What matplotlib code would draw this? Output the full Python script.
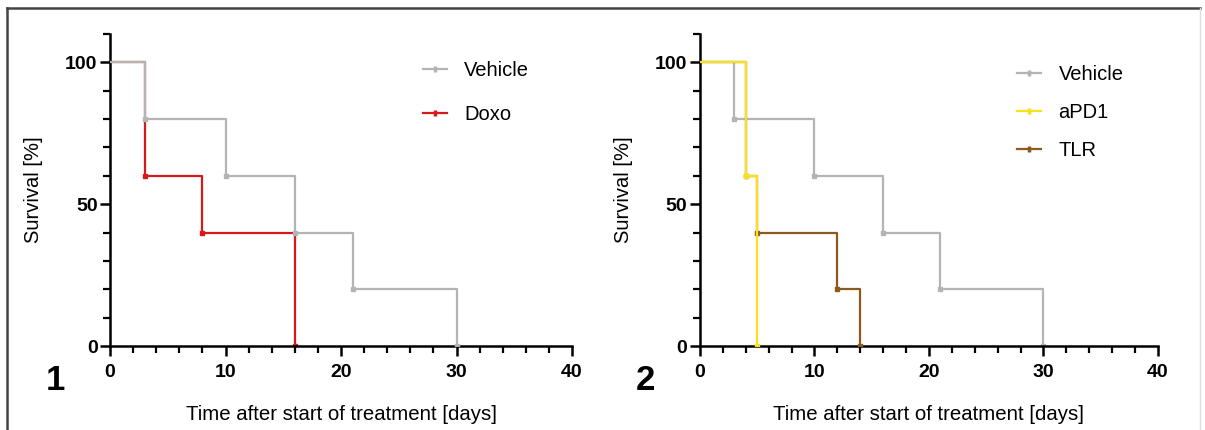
import matplotlib
matplotlib.use("Agg")
import matplotlib.pyplot as plt
from matplotlib.lines import Line2D
from matplotlib.ticker import MultipleLocator

plt.rcParams['font.family'] = ['Liberation Sans', 'DejaVu Sans']

# Panel 1 data
veh_t = [0, 3, 10, 16, 21, 30]
veh_s = [100, 80, 60, 40, 20, 0]
doxo_t = [0, 3, 8, 16]
doxo_s = [100, 60, 40, 0]

# Panel 2 data
apd1_t = [0, 4, 5]
apd1_s = [100, 60, 0]
tlr_t = [0, 4, 5, 12, 14]
tlr_s = [100, 60, 40, 20, 0]

C_VEH = '#b4b4b4'
C_DOXO = '#d7191c'
C_APD1 = '#f7e11a'
C_TLR = '#8c5a1c'

fig = plt.figure(figsize=(12.05, 4.30), dpi=100)

# figure border
fig.add_artist(Line2D([0.006, 0.996], [0.981, 0.981], color='#444444', lw=1.8, transform=fig.transFigure))
fig.add_artist(Line2D([0.006, 0.006], [0.0, 0.981], color='#444444', lw=1.8, transform=fig.transFigure))
fig.add_artist(Line2D([0.996, 0.996], [0.0, 0.981], color='#dddddd', lw=1.0, transform=fig.transFigure))


def km(ax, t, s, color, label, z):
    ax.step(t, s, where='post', color=color, lw=1.6, zorder=z)
    ax.plot(t[1:], s[1:], ls='none', marker='s', ms=3.5, color=color, zorder=z + 0.5)
    return Line2D([], [], color=color, lw=1.6, marker='|', ms=5, mew=2.5, label=label)


def style(ax):
    ax.set_xlim(0, 40)
    ax.set_ylim(0, 110)
    for sp in ['top', 'right']:
        ax.spines[sp].set_visible(False)
    ax.spines['left'].set_linewidth(1.8)
    ax.spines['bottom'].set_linewidth(1.8)
    ax.spines['left'].set_bounds(0, 110)
    ax.xaxis.set_major_locator(MultipleLocator(10))
    ax.xaxis.set_minor_locator(MultipleLocator(2))
    ax.set_yticks([0, 50, 100])
    ax.yaxis.set_minor_locator(MultipleLocator(10))
    ax.tick_params(which='major', length=7, width=1.8, labelsize=14)
    ax.tick_params(axis='x', which='major', pad=6)
    ax.tick_params(axis='y', which='major', pad=2)
    ax.tick_params(which='minor', length=5, width=1.6)
    for lab in ax.get_xticklabels() + ax.get_yticklabels():
        lab.set_fontweight('bold')
    ax.set_xlabel('Time after start of treatment [days]', fontsize=14.7, labelpad=17)
    ax.set_ylabel('Survival [%]', fontsize=14.5, labelpad=16)
    ax.patch.set_visible(False)


LEG = dict(loc='upper left', frameon=False, fontsize=14.5, handlelength=1.2,
           handletextpad=0.85)

ax1 = fig.add_axes([0.0913, 0.1953, 0.3834, 0.7256])
h1 = km(ax1, veh_t, veh_s, C_VEH, 'Vehicle', 3)
h2 = km(ax1, doxo_t, doxo_s, C_DOXO, 'Doxo', 2)
style(ax1)
ax1.legend(handles=[h1, h2], bbox_to_anchor=(0.638, 0.97), labelspacing=1.2, **LEG)

ax2 = fig.add_axes([0.5809, 0.1953, 0.3801, 0.7256])
g1 = km(ax2, veh_t, veh_s, C_VEH, 'Vehicle', 2)
g3 = km(ax2, tlr_t, tlr_s, C_TLR, 'TLR', 3)
g2 = km(ax2, apd1_t, apd1_s, C_APD1, 'aPD1', 4)
style(ax2)
ax2.legend(handles=[g1, g2, g3], bbox_to_anchor=(0.653, 0.96), labelspacing=0.95, **LEG)

fig.text(0.046, 0.116, '1', fontsize=25, fontweight='bold', ha='center', va='center')
fig.text(0.536, 0.116, '2', fontsize=25, fontweight='bold', ha='center', va='center')

fig.savefig('out.png', dpi=100)
